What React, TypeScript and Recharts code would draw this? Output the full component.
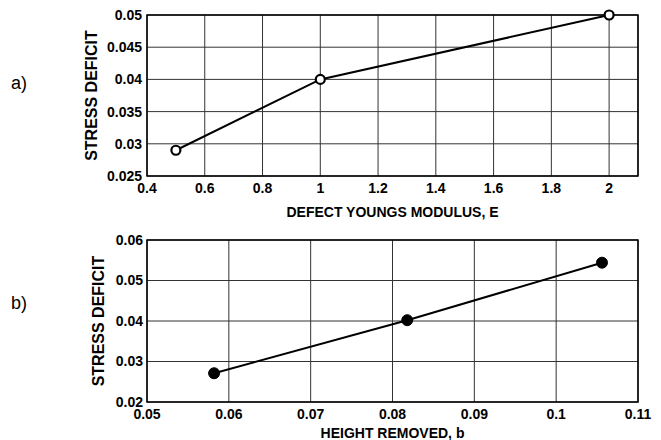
import React from "react";
import {
  LineChart,
  Line,
  XAxis,
  YAxis,
  CartesianGrid,
  ReferenceArea,
} from "recharts";

// panel a) stress deficit vs defect youngs modulus
const modulusE = [0.5, 1, 2];
const deficitA = [0.029, 0.04, 0.05];
const ticksAX = [0.4, 0.6, 0.8, 1, 1.2, 1.4, 1.6, 1.8, 2];
const ticksAY = [0.025, 0.03, 0.035, 0.04, 0.045, 0.05];

// panel b) stress deficit vs height removed
const heightB = [0.0582, 0.0818, 0.1056];
const deficitB = [0.0271, 0.0402, 0.0544];
const ticksBX = [0.05, 0.06, 0.07, 0.08, 0.09, 0.1, 0.11];
const ticksBY = [0.02, 0.03, 0.04, 0.05, 0.06];

const dataA = modulusE.map((x, i) => ({ x, y: deficitA[i] }));
const dataB = heightB.map((x, i) => ({ x, y: deficitB[i] }));

const font = "'Liberation Sans', Arial, Helvetica, sans-serif";
const tickStyle = { fontSize: 14, fontWeight: 700, fill: "#000", fontFamily: font };
const xTitleStyle = { fontSize: 14, fontWeight: 700, fill: "#000", fontFamily: font };
const yTitleStyle = {
  fontSize: 16,
  fontWeight: 700,
  fill: "#000",
  fontFamily: font,
  textAnchor: "middle" as const,
};

const fmt = (v: number) => String(v);

export default function App() {
  return (
    <div
      style={{
        position: "absolute",
        left: 0,
        top: 0,
        width: 661,
        height: 440,
        background: "#fff",
        fontFamily: font,
      }}
    >
      <div style={{ position: "absolute", left: 11, top: 73, fontSize: 18 }}>a)</div>
      <div style={{ position: "absolute", left: 11, top: 293, fontSize: 18 }}>b)</div>

      <div style={{ position: "absolute", left: 0, top: 0 }}>
        <LineChart
          width={661}
          height={220}
          data={dataA}
          margin={{ top: 15, right: 23, left: 87, bottom: 3 }}
        >
          <CartesianGrid stroke="#333" strokeWidth={1} />
          <XAxis
            dataKey="x"
            type="number"
            domain={[0.4, 2.1]}
            ticks={ticksAX}
            tickFormatter={fmt}
            tick={tickStyle}
            tickLine={false}
            tickSize={0}
            tickMargin={7}
            axisLine={false}
            height={41}
            label={{
              value: "DEFECT YOUNGS MODULUS, E",
              position: "insideBottom",
              offset: 0,
              style: xTitleStyle,
            }}
          />
          <YAxis
            dataKey="y"
            type="number"
            domain={[0.025, 0.05]}
            ticks={ticksAY}
            tickFormatter={fmt}
            tick={tickStyle}
            tickLine={false}
            tickSize={0}
            tickMargin={5}
            axisLine={false}
            width={60}
            label={{
              value: "STRESS DEFICIT",
              angle: -90,
              position: "insideLeft",
              offset: 4,
              style: yTitleStyle,
            }}
          />
          <ReferenceArea
            x1={0.4}
            x2={2.1}
            y1={0.025}
            y2={0.05}
            fill="none"
            stroke="#000"
            strokeWidth={1.5}
          />
          <Line
            dataKey="y"
            stroke="#000"
            strokeWidth={2}
            dot={{ r: 4.5, fill: "#fff", stroke: "#000", strokeWidth: 2.2 }}
            isAnimationActive={false}
          />
        </LineChart>
      </div>

      <div style={{ position: "absolute", left: 0, top: 220 }}>
        <LineChart
          width={661}
          height={220}
          data={dataB}
          margin={{ top: 20, right: 23, left: 87, bottom: 2 }}
        >
          <CartesianGrid stroke="#333" strokeWidth={1} />
          <XAxis
            dataKey="x"
            type="number"
            domain={[0.05, 0.11]}
            ticks={ticksBX}
            tickFormatter={fmt}
            tick={tickStyle}
            tickLine={false}
            tickSize={0}
            tickMargin={7}
            axisLine={false}
            height={36}
            label={{
              value: "HEIGHT REMOVED, b",
              position: "insideBottom",
              offset: 0,
              style: xTitleStyle,
            }}
          />
          <YAxis
            dataKey="y"
            type="number"
            domain={[0.02, 0.06]}
            ticks={ticksBY}
            tickFormatter={fmt}
            tick={tickStyle}
            tickLine={false}
            tickSize={0}
            tickMargin={4}
            axisLine={false}
            width={60}
            label={{
              value: "STRESS DEFICIT",
              angle: -90,
              position: "insideLeft",
              offset: 11,
              style: yTitleStyle,
            }}
          />
          <ReferenceArea
            x1={0.05}
            x2={0.11}
            y1={0.02}
            y2={0.06}
            fill="none"
            stroke="#000"
            strokeWidth={1.5}
          />
          <Line
            dataKey="y"
            stroke="#000"
            strokeWidth={2}
            dot={{ r: 5.5, fill: "#000", stroke: "#000", strokeWidth: 1 }}
            isAnimationActive={false}
          />
        </LineChart>
      </div>
    </div>
  );
}
